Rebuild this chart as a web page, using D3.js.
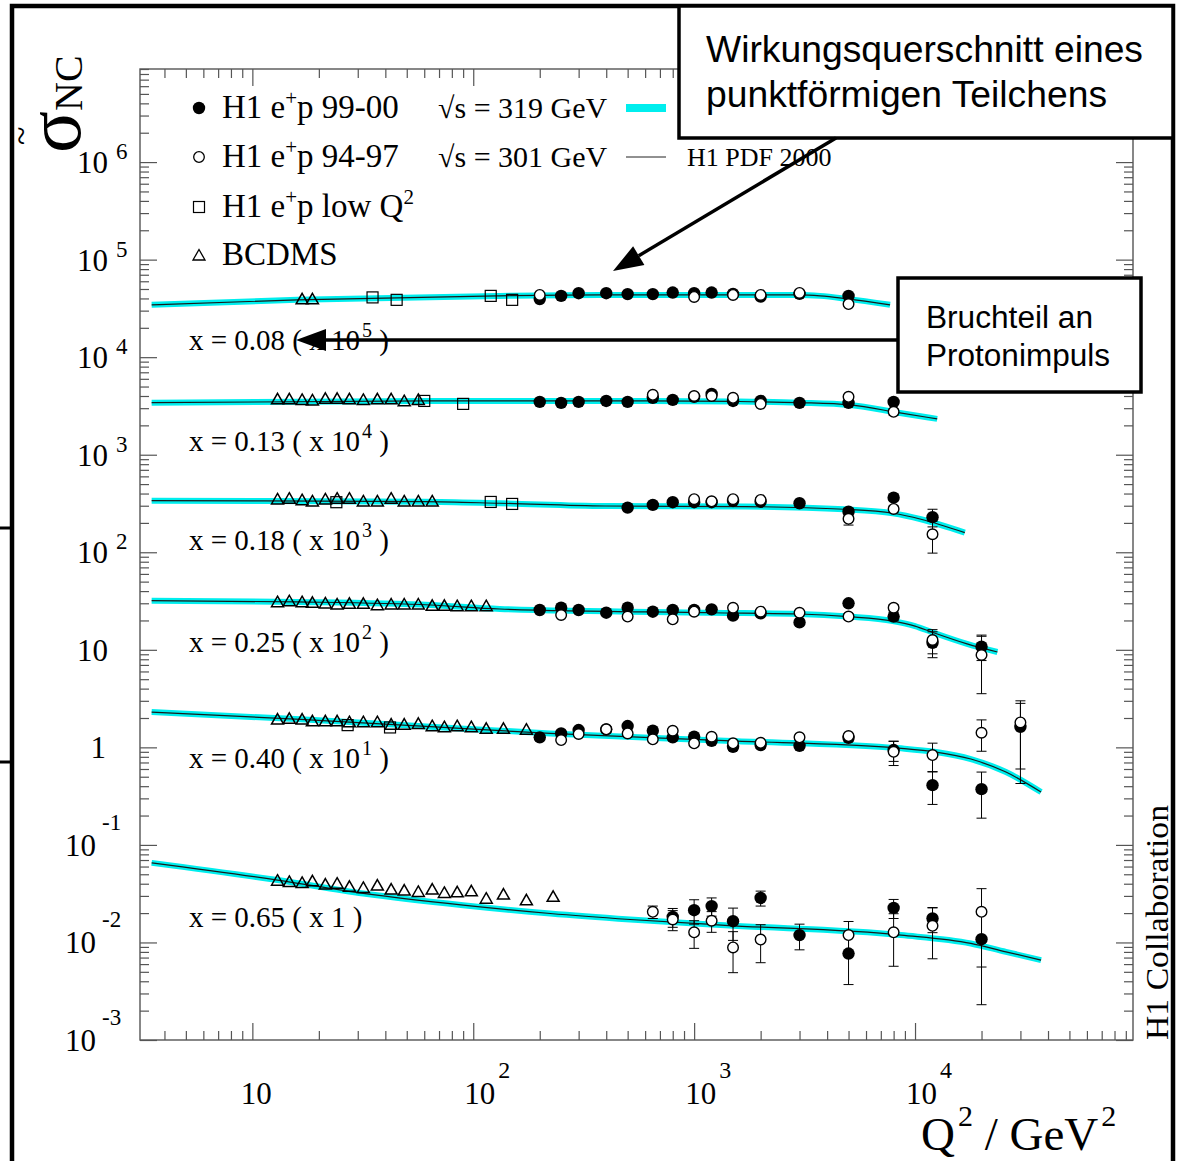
<!DOCTYPE html>
<html>
<head>
<meta charset="utf-8">
<script src="https://cdnjs.cloudflare.com/ajax/libs/d3/7.8.5/d3.min.js"></script>
<style>
body { margin: 0; background: #fff; }
</style>
</head>
<body>
<script>
// axis ranges
var q2Range = [3.1, 9.7e4];
var sigmaRange = [1e-3, 9e6];
var yDecades = [-3, -2, -1, 0, 1, 2, 3, 4, 5, 6];
var xDecades = [1, 2, 3, 4];

// x bins, and the power of ten each one is multiplied by
var xBins = ["0.08", "0.13", "0.18", "0.25", "0.40", "0.65"];
var binPow = [5, 4, 3, 2, 1, 0];
// label anchor of each bin, in plotted (scaled) units
var labelAt = [1.19e4, 1.08e3, 106, 9.6, 0.617, 0.0145];

// H1 PDF 2000 fit, [Q2, sigma] (unscaled)
var fit = [
  [[3.5,0.344],[16,0.387],[128,0.425],[376,0.435],[3020,0.435],[3720,0.425],[4920,0.396],[7710,0.344]],
  [[3.5,0.342],[62,0.356],[132,0.356],[631,0.356],[1500,0.352],[3020,0.342],[5080,0.324],[8550,0.268],[12600,0.233]],
  [[3.5,0.338],[60,0.33],[132,0.318],[395,0.298],[1710,0.294],[4770,0.276],[7940,0.251],[10640,0.218],[16800,0.159]],
  [[3.5,0.319],[16,0.31],[64,0.288],[132,0.262],[1200,0.24],[3000,0.233],[5000,0.219],[7940,0.197],[10000,0.175],[11900,0.152],[17200,0.115],[23600,0.095]],
  [[3.5,0.23],[16.5,0.194],[64,0.163],[223,0.139],[1380,0.117],[8650,0.0977],[12450,0.0895],[17900,0.0759],[25800,0.0558],[37200,0.0348]],
  [[3.5,0.0655],[13,0.0436],[31.8,0.0318],[90,0.0241],[223,0.0198],[513,0.0172],[1380,0.015],[8650,0.0119],[17900,0.00977],[25800,0.008],[37200,0.0066]]
];

// H1 e+p 99-00, [Q2, sigma, error]
var h1New = [
  [[200,0.394],[250,0.425],[300,0.453],[400,0.453],[500,0.443],[650,0.443],[800,0.46],[1000,0.453],[1200,0.46],[1500,0.446],[2000,0.418],[3000,0.446],[5000,0.425]],
  [[200,0.348],[250,0.34],[300,0.348],[400,0.356],[500,0.348],[650,0.383],[800,0.365],[1000,0.392],[1200,0.42],[1500,0.356],[2000,0.356],[3000,0.34],[5000,0.34],[8000,0.348,0.02]],
  [[500,0.287],[650,0.306],[800,0.326],[1000,0.326],[1200,0.326],[1500,0.336],[2000,0.33],[3000,0.318],[5000,0.261,0.02],[8000,0.363,0.025],[12000,0.229,0.047]],
  [[200,0.256],[250,0.27],[300,0.256],[400,0.24],[500,0.27],[650,0.246],[800,0.256],[1000,0.256],[1200,0.26],[1500,0.224],[2000,0.237],[3000,0.191],[5000,0.3,0.015],[8000,0.219,0.02],[12000,0.118,0.035],[20000,0.1076,0.03]],
  [[200,0.1267],[250,0.139],[300,0.1504],[400,0.153],[500,0.1653],[650,0.148],[800,0.1267],[1000,0.1285],[1200,0.1169],[1500,0.1014,0.008],[2000,0.1056,0.008],[3000,0.1038],[5000,0.1254,0.01],[8000,0.0938,0.022],[12000,0.041,0.015],[20000,0.0373,0.0185],[30000,0.1626,0.12]],
  [[800,0.0183,0.004],[1000,0.0214,0.006],[1200,0.0236,0.005],[1500,0.0165,0.006],[2000,0.0286,0.005],[3000,0.0119,0.0035],[5000,0.0077,0.004],[8000,0.0226,0.005],[12000,0.0176,0.005],[20000,0.0108,0.0085]]
];

// H1 e+p 94-97
var h1Old = [
  [[200,0.435],[1000,0.415],[1500,0.435],[2000,0.435],[3000,0.456],[5000,0.35,0.02]],
  [[650,0.411],[1000,0.40],[1200,0.40],[1500,0.383],[2000,0.332],[5000,0.392],[8000,0.275,0.02]],
  [[1000,0.35],[1200,0.333],[1500,0.35],[2000,0.344],[5000,0.22,0.03],[8000,0.278,0.02],[12000,0.153,0.055]],
  [[250,0.2275],[500,0.219],[800,0.2055],[1000,0.246],[1500,0.27],[2000,0.246],[3000,0.24],[5000,0.219,0.015],[8000,0.27,0.02],[12000,0.126,0.035],[20000,0.0885,0.053]],
  [[250,0.1188],[300,0.137],[400,0.153],[500,0.139],[650,0.1208],[800,0.148],[1000,0.1099],[1200,0.1285],[1500,0.1099],[2000,0.1114],[3000,0.1267],[5000,0.1306],[8000,0.0901,0.025],[12000,0.0834,0.027],[20000,0.1412,0.05],[30000,0.18,0.12]],
  [[650,0.0206,0.003],[800,0.0172,0.004],[1000,0.0127,0.004],[1200,0.0167,0.004],[1500,0.0089,0.004],[2000,0.0107,0.0045],[5000,0.0119,0.0045],[8000,0.0127,0.007],[12000,0.0148,0.008],[20000,0.0206,0.015]]
];

// H1 e+p low Q2
var h1Low = [
  [[35,0.41],[45,0.387],[120,0.425],[150,0.387]],
  [[60,0.356],[90,0.332]],
  [[24,0.326],[120,0.328],[150,0.313]],
  [],
  [[27,0.169],[42,0.16]],
  []
];

// BCDMS
var bcdms = [
  [[16.8,0.387],[18.7,0.387]],
  [[13.0,0.365],[14.7,0.365],[16.8,0.36],[18.7,0.356],[21.4,0.37],[24.2,0.37],[27.5,0.365],[31.8,0.36],[36.8,0.365],[42.5,0.365],[48.7,0.35],[56.4,0.36]],
  [[13.0,0.344],[14.7,0.35],[16.8,0.338],[18.7,0.328],[21.4,0.344],[24.2,0.35],[27.5,0.35],[31.8,0.328],[36.8,0.328],[42.5,0.35],[48.7,0.328],[56.4,0.328],[65.2,0.328]],
  [[13.0,0.304],[14.7,0.311],[16.8,0.304],[18.7,0.300],[21.4,0.295],[24.2,0.288],[27.5,0.293],[31.8,0.293],[36.8,0.283],[42.5,0.288],[48.7,0.288],[56.4,0.288],[65.2,0.279],[74,0.279],[84.6,0.277],[98,0.277],[114.5,0.277]],
  [[13.0,0.1906],[14.7,0.194],[16.8,0.1906],[18.7,0.183],[21.4,0.183],[24.2,0.183],[27.5,0.179],[31.8,0.179],[36.8,0.179],[42.5,0.169],[48.7,0.169],[56.4,0.172],[65.2,0.163],[74,0.159],[84.6,0.163],[98,0.159],[114.5,0.153],[137,0.153],[174,0.150]],
  [[13.0,0.0425],[14.7,0.0412],[16.8,0.0403],[18.7,0.0418],[21.4,0.0387],[24.2,0.0396],[27.5,0.0367],[31.8,0.0358],[36.8,0.0378],[42.5,0.0344],[48.7,0.0336],[56.4,0.0326],[65.2,0.0344],[74,0.0318],[84.6,0.0323],[98,0.033],[114.5,0.0278],[137,0.0306],[174,0.0267],[230,0.029]]
];

var svg = d3.select("body").append("svg")
    .attr("width", 1179).attr("height", 1161)
    .style("font-family", "'Liberation Serif', 'Times New Roman', serif");

var x = d3.scaleLog().domain(q2Range).range([140, 1133]);
var y = d3.scaleLog().domain(sigmaRange).range([1040, 69]);

svg.append("defs").append("clipPath").attr("id", "plotclip")
  .append("rect").attr("x", 140).attr("y", 69).attr("width", 993).attr("height", 971);

// text with superscripts: parts = [[text, up, size, dx], ...]
function rich(g, px, py, size, parts, anchor) {
  var t = g.append("text").attr("x", px).attr("y", py)
      .attr("font-size", size).attr("text-anchor", anchor || "start");
  var shift = 0;
  parts.forEach(function(p) {
    var up = p[1] || 0;
    var ts = t.append("tspan").text(p[0]).attr("dy", up - shift);
    if (p[2]) ts.attr("font-size", p[2]);
    if (p[3]) ts.attr("dx", p[3]);
    shift = up;
  });
  return t;
}

// ---- ticks
function isMajor(v) { var l = Math.log10(v); return Math.abs(l - Math.round(l)) < 1e-6; }
var xt = x.ticks(20), yt = y.ticks(20);
var xMaj = xt.filter(isMajor), xMin = xt.filter(function(v) { return !isMajor(v); });
var yMaj = yt.filter(isMajor), yMin = yt.filter(function(v) { return !isMajor(v); });

function ticks(axis, tr, vals, len) {
  var g = svg.append("g").attr("transform", tr)
    .call(axis.tickValues(vals).tickSize(-len).tickFormat(""));
  g.select(".domain").remove();
  g.selectAll("line").attr("stroke", "#555").attr("stroke-width", 1.2);
}
ticks(d3.axisBottom(x), "translate(0,1040)", xMaj, 17);
ticks(d3.axisBottom(x), "translate(0,1040)", xMin, 9);
ticks(d3.axisTop(x), "translate(0,69)", xMaj, 17);
ticks(d3.axisTop(x), "translate(0,69)", xMin, 9);
ticks(d3.axisLeft(y), "translate(140,0)", yMaj, 17);
ticks(d3.axisLeft(y), "translate(140,0)", yMin, 9);
ticks(d3.axisRight(y), "translate(1133,0)", yMaj, 17);
ticks(d3.axisRight(y), "translate(1133,0)", yMin, 9);

svg.append("rect").attr("x", 140).attr("y", 69).attr("width", 993).attr("height", 971)
  .attr("fill", "none").attr("stroke", "#555").attr("stroke-width", 1.4);

// ---- y tick labels
var yl = svg.append("g");
yDecades.forEach(function(p) {
  var ty = y(Math.pow(10, p));
  if (p === 0) rich(yl, 106, ty + 11, 31, [["1"]], "end");
  else if (p === 1) rich(yl, 108, ty + 11, 31, [["10"]], "end");
  else if (p > 1) rich(yl, 77, ty + 11, 31, [["10"], [String(p), -14, 23, 8]]);
  else rich(yl, 65, ty + 11, 31, [["10"], [String(p), -26, 23, 6]]);
});

// ---- x tick labels
var xl = svg.append("g");
xDecades.forEach(function(p) {
  var tx = x(Math.pow(10, p));
  if (p === 1) rich(xl, tx + 4, 1104, 31, [["10"]], "middle");
  else rich(xl, tx - 9, 1104, 31, [["10"], [String(p), -26, 24, 3]]);
});

// axis titles
rich(svg, 921, 1150, 47, [["Q"], ["2", -24, 30, 3], [" / GeV", 0], ["2", -24, 30, 3]]);
var yt0 = svg.append("g").attr("transform", "translate(80,153) rotate(-90)");
rich(yt0, 0, 0, 78, [["σ"], ["NC", 2, 40]]);
yt0.append("text").attr("x", 8).attr("y", -48).attr("font-size", 34).text("~");

svg.append("text").attr("transform", "translate(1168,1040) rotate(-90)")
  .attr("font-size", 31).attr("textLength", 235).attr("lengthAdjust", "spacingAndGlyphs")
  .text("H1 Collaboration");

// ---- curves and points
var plot = svg.append("g").attr("clip-path", "url(#plotclip)");

function triPath(cx, cy) {
  return "M" + cx + "," + (cy - 6.5) + "L" + (cx + 6) + "," + (cy + 4) + "L" + (cx - 6) + "," + (cy + 4) + "Z";
}

xBins.forEach(function(xb, i) {
  var s = Math.pow(10, binPow[i]);
  var line = d3.line()
      .x(function(d) { return x(d[0]); })
      .y(function(d) { return y(d[1] * s); })
      .curve(d3.curveMonotoneX);

  plot.append("path").datum(fit[i]).attr("d", line)
    .attr("fill", "none").attr("stroke", "#00eeee").attr("stroke-width", 6);
  plot.append("path").datum(fit[i]).attr("d", line)
    .attr("fill", "none").attr("stroke", "#1a1a1a").attr("stroke-width", 1.2);

  plot.selectAll(null).data(bcdms[i]).enter().append("path")
    .attr("d", function(d) { return triPath(x(d[0]), y(d[1] * s)); })
    .attr("fill", "none").attr("stroke", "#000").attr("stroke-width", 1.5);

  plot.selectAll(null).data(h1Low[i]).enter().append("rect")
    .attr("x", function(d) { return x(d[0]) - 5.5; })
    .attr("y", function(d) { return y(d[1] * s) - 5.5; })
    .attr("width", 11).attr("height", 11)
    .attr("fill", "none").attr("stroke", "#000").attr("stroke-width", 1.2);

  // error bars
  var withErr = h1New[i].concat(h1Old[i]).filter(function(d) { return d[2]; });
  withErr.forEach(function(d) {
    var cx = x(d[0]), lo = y((d[1] - d[2]) * s), hi = y((d[1] + d[2]) * s);
    plot.append("line").attr("x1", cx).attr("x2", cx).attr("y1", lo).attr("y2", hi)
      .attr("stroke", "#000").attr("stroke-width", 1);
    [lo, hi].forEach(function(yy) {
      plot.append("line").attr("x1", cx - 5).attr("x2", cx + 5).attr("y1", yy).attr("y2", yy)
        .attr("stroke", "#000").attr("stroke-width", 1);
    });
  });

  plot.selectAll(null).data(h1New[i]).enter().append("circle")
    .attr("cx", function(d) { return x(d[0]); })
    .attr("cy", function(d) { return y(d[1] * s); })
    .attr("r", 6.2).attr("fill", "#000");

  plot.selectAll(null).data(h1Old[i]).enter().append("circle")
    .attr("cx", function(d) { return x(d[0]); })
    .attr("cy", function(d) { return y(d[1] * s); })
    .attr("r", 5.3).attr("fill", "#fff").attr("stroke", "#000").attr("stroke-width", 1.4);

  // bin label
  var sup = binPow[i] > 0 ? [["x = " + xb + " ( x 10"], [String(binPow[i]), -13, 20, 2], [" )", 0]]
                          : [["x = " + xb + " ( x 1 )"]];
  rich(svg, 189, y(labelAt[i]), 29, sup);
});

// ---- legend
var lg = svg.append("g");
var rowY = [108, 157, 207, 255];
lg.append("circle").attr("cx", 199).attr("cy", rowY[0]).attr("r", 6.2).attr("fill", "#000");
lg.append("circle").attr("cx", 199).attr("cy", rowY[1]).attr("r", 5.3).attr("fill", "none").attr("stroke", "#000").attr("stroke-width", 1.3);
lg.append("rect").attr("x", 193.5).attr("y", rowY[2] - 5.5).attr("width", 11).attr("height", 11).attr("fill", "none").attr("stroke", "#000").attr("stroke-width", 1.2);
lg.append("path").attr("d", triPath(199, rowY[3] + 1)).attr("fill", "none").attr("stroke", "#000").attr("stroke-width", 1.3);

rich(lg, 222, rowY[0] + 10, 33, [["H1 e"], ["+", -13, 21], ["p 99-00", 0]]);
rich(lg, 222, rowY[1] + 10, 33, [["H1 e"], ["+", -13, 21], ["p 94-97", 0]]);
rich(lg, 222, rowY[2] + 10, 33, [["H1 e"], ["+", -13, 21], ["p low Q", 0], ["2", -13, 21]]);
rich(lg, 222, rowY[3] + 10, 33, [["BCDMS"]]);
rich(lg, 438, rowY[0] + 10, 30, [["√s = 319 GeV"]]);
rich(lg, 438, rowY[1] + 10, 30, [["√s = 301 GeV"]]);
lg.append("rect").attr("x", 626).attr("y", rowY[0] - 4).attr("width", 40).attr("height", 8).attr("fill", "#00eeee");
lg.append("line").attr("x1", 626).attr("x2", 666).attr("y1", rowY[1]).attr("y2", rowY[1]).attr("stroke", "#222").attr("stroke-width", 1);
rich(lg, 687, rowY[1] + 9, 26, [["H1 PDF 2000"]]);

// ---- slide frame and annotations
svg.append("rect").attr("x", 12).attr("y", 6).attr("width", 1161).attr("height", 1200)
  .attr("fill", "none").attr("stroke", "#000").attr("stroke-width", 4.5);
svg.append("rect").attr("x", -20).attr("y", 528).attr("width", 32).attr("height", 234)
  .attr("fill", "none").attr("stroke", "#000").attr("stroke-width", 3);

function arrow(x1, y1, x2, y2) {
  var a = Math.atan2(y2 - y1, x2 - x1), L = 30, w = 11;
  var bx = x2 - L * Math.cos(a), by = y2 - L * Math.sin(a);
  svg.append("line").attr("x1", x1).attr("y1", y1).attr("x2", bx).attr("y2", by)
    .attr("stroke", "#000").attr("stroke-width", 3.5);
  svg.append("path")
    .attr("d", "M" + x2 + "," + y2 + "L" + (bx + w * Math.sin(a)) + "," + (by - w * Math.cos(a)) +
               "L" + (bx - w * Math.sin(a)) + "," + (by + w * Math.cos(a)) + "Z")
    .attr("fill", "#000");
}

function box(bx, by, bw, bh, lines, size) {
  svg.append("rect").attr("x", bx).attr("y", by).attr("width", bw).attr("height", bh)
    .attr("fill", "#fff").attr("stroke", "#000").attr("stroke-width", 3.5);
  lines.forEach(function(l) {
    svg.append("text").attr("x", l[1]).attr("y", l[2])
      .attr("font-family", "'Liberation Sans', Arial, sans-serif").attr("font-size", size)
      .attr("textLength", l[3]).attr("lengthAdjust", "spacingAndGlyphs").text(l[0]);
  });
}

box(679, 6, 494, 132, [["Wirkungsquerschnitt eines", 706, 62, 437], ["punktförmigen Teilchens", 706, 107, 401]], 37);
arrow(836, 138, 613, 271);
box(898, 278, 243, 114, [["Bruchteil an", 926, 328, 167], ["Protonimpuls", 926, 366, 184]], 31);
arrow(898, 340, 296, 340);
</script>
</body>
</html>
